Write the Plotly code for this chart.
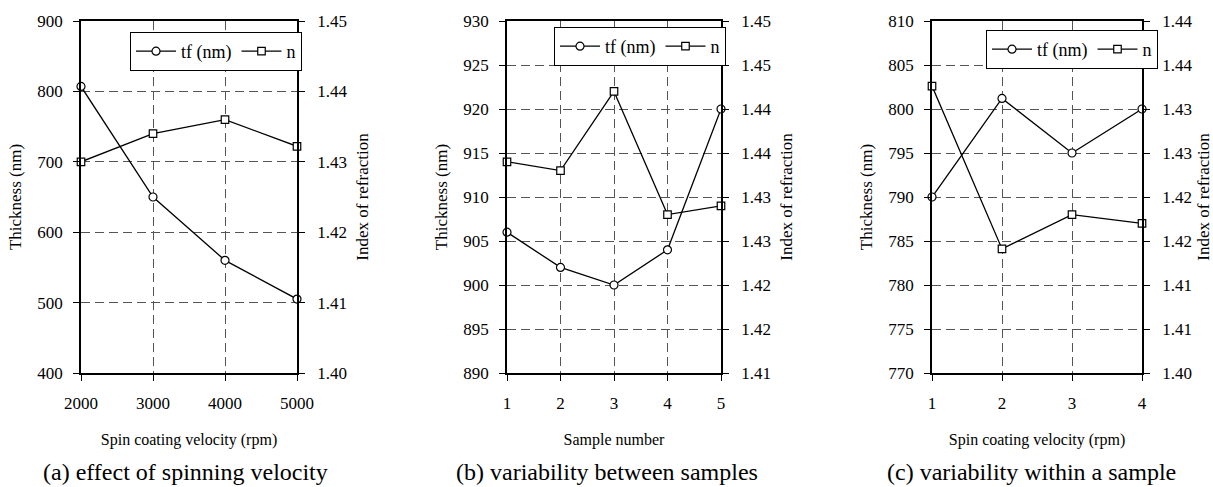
import plotly.graph_objects as go

W, H = 1213, 487

# ---- data ----
speed_rpm = [2000, 3000, 4000, 5000]
tf_a = [807, 650, 560, 505]
n_a = [1.4300, 1.4340, 1.4360, 1.4322]

sample_no = [1, 2, 3, 4, 5]
tf_b = [906, 902, 900, 904, 920]
n_b = [1.434, 1.433, 1.442, 1.428, 1.429]

point_no = [1, 2, 3, 4]
tf_c = [790, 801.2, 795, 800]
n_c = [1.4326, 1.4141, 1.418, 1.417]

left_ticks_a = [400, 500, 600, 700, 800, 900]
right_ticks_a = [1.40, 1.41, 1.42, 1.43, 1.44, 1.45]
right_text_a = ["1.40", "1.41", "1.42", "1.43", "1.44", "1.45"]

left_ticks_b = [890, 895, 900, 905, 910, 915, 920, 925, 930]
right_ticks_b = [1.41, 1.415, 1.42, 1.425, 1.43, 1.435, 1.44, 1.445, 1.45]
right_text_b = ["1.41", "1.42", "1.42", "1.43", "1.43", "1.44", "1.44", "1.45", "1.45"]

left_ticks_c = [770, 775, 780, 785, 790, 795, 800, 805, 810]
right_ticks_c = [1.40, 1.405, 1.41, 1.415, 1.42, 1.425, 1.43, 1.435, 1.44]
right_text_c = ["1.40", "1.41", "1.41", "1.42", "1.42", "1.43", "1.43", "1.44", "1.44"]

captions = ["(a) effect of spinning velocity", "(b) variability between samples",
            "(c) variability within a sample"]
xtitles = ["Spin coating velocity (rpm)", "Sample number", "Spin coating velocity (rpm)"]

FONT = "Liberation Serif"
fs_tick = 17
fs_xt = 16
fs_yt = 17
fs_leg = 18

# pixel layout of each panel: (left, right) of plot area
panels = [(81, 297), (507, 721), (932, 1142)]
top_px, bot_px = 21, 373
legend_pos = [(302, 32), (726, 27), (1158, 30)]
caption_x = [185, 607, 1031]

fig = go.Figure()

def px_x(p):
    return p / W

def px_y(p):
    return 1 - p / H

panel_data = [
    (speed_rpm, tf_a, n_a, [400, 900], [1.40, 1.45], left_ticks_a, right_ticks_a, right_text_a, [2000, 5000]),
    (sample_no, tf_b, n_b, [890, 930], [1.41, 1.45], left_ticks_b, right_ticks_b, right_text_b, [1, 5]),
    (point_no, tf_c, n_c, [770, 810], [1.40, 1.44], left_ticks_c, right_ticks_c, right_text_c, [1, 4]),
]

layout = dict(
    width=W, height=H, margin=dict(l=0, r=0, t=0, b=0, autoexpand=False),
    paper_bgcolor="white", plot_bgcolor="white",
    font=dict(family=FONT, size=fs_tick, color="black"),
    showlegend=True,
)

GRID = "#555"
annotations = []
for i, (xs, tf, nn, lr, rr, lt, rt, rtt, xr) in enumerate(panel_data):
    k = i + 1
    xa = "x" if k == 1 else f"x{k}"
    yl = 2 * i + 1
    yr = 2 * i + 2
    ya_l = "y" if yl == 1 else f"y{yl}"
    ya_r = f"y{yr}"
    leg = "legend" if k == 1 else f"legend{k}"

    fig.add_trace(go.Scatter(
        x=xs, y=tf, name="tf (nm)", mode="lines+markers",
        xaxis=xa, yaxis=ya_l, legend=leg, cliponaxis=False,
        line=dict(color="black", width=1.3),
        marker=dict(symbol="circle", size=8, color="white", line=dict(color="black", width=1.2)),
    ))
    fig.add_trace(go.Scatter(
        x=xs, y=nn, name="n", mode="lines+markers",
        xaxis=xa, yaxis=ya_r, legend=leg, cliponaxis=False,
        line=dict(color="black", width=1.3),
        marker=dict(symbol="square", size=7.5, color="white", line=dict(color="black", width=1.2)),
    ))

    l, r = panels[i]
    xkey = "xaxis" if k == 1 else f"xaxis{k}"
    ylkey = "yaxis" if yl == 1 else f"yaxis{yl}"
    yrkey = f"yaxis{yr}"
    layout[xkey] = dict(
        domain=[px_x(l), px_x(r)], anchor=ya_l, range=xr, tickvals=xs,
        showline=True, linecolor="black", linewidth=1.6, mirror=True,
        ticks="outside", ticklen=6, tickcolor="black", ticklabelstandoff=8,
        showgrid=True, gridcolor=GRID, gridwidth=1, griddash="9px,5px",
        zeroline=False, automargin=False,
        title=dict(text=xtitles[i], standoff=22, font=dict(size=fs_xt)),
    )
    layout[ylkey] = dict(
        domain=[px_y(bot_px), px_y(top_px)], anchor=xa, range=lr, tickvals=lt,
        showline=True, linecolor="black", linewidth=1.6,
        ticks="outside", ticklen=6, tickcolor="black", ticklabelstandoff=7,
        showgrid=True, gridcolor=GRID, gridwidth=1, griddash="9px,5px",
        zeroline=False, automargin=False,
        title=dict(text="Thickness (nm)", standoff=11, font=dict(size=fs_yt)),
    )
    layout[yrkey] = dict(
        overlaying=ya_l, side="right", anchor=xa, range=rr, tickvals=rt, ticktext=rtt,
        showline=True, linecolor="black", linewidth=1.6,
        ticks="outside", ticklen=6, tickcolor="black", ticklabelstandoff=9,
        showgrid=False, zeroline=False, automargin=False,
        title=dict(text="Index of refraction", standoff=10, font=dict(size=fs_yt)),
    )
    lx, ly = legend_pos[i]
    layout[leg] = dict(
        x=px_x(lx), xanchor="right", y=px_y(ly), yanchor="top",
        orientation="h", bgcolor="white", bordercolor="black", borderwidth=1,
        font=dict(family=FONT, size=fs_leg), itemwidth=40,
    )
    annotations.append(dict(
        text=captions[i], x=px_x(caption_x[i]), y=px_y(472), xref="paper", yref="paper",
        showarrow=False, xanchor="center", yanchor="middle",
        font=dict(family="Liberation Serif", size=24, color="black"),
    ))

layout["annotations"] = annotations
fig.update_layout(**layout)
fig.write_html("out.html", config={"displayModeBar": False},
               post_script="document.body.style.margin='0';")
